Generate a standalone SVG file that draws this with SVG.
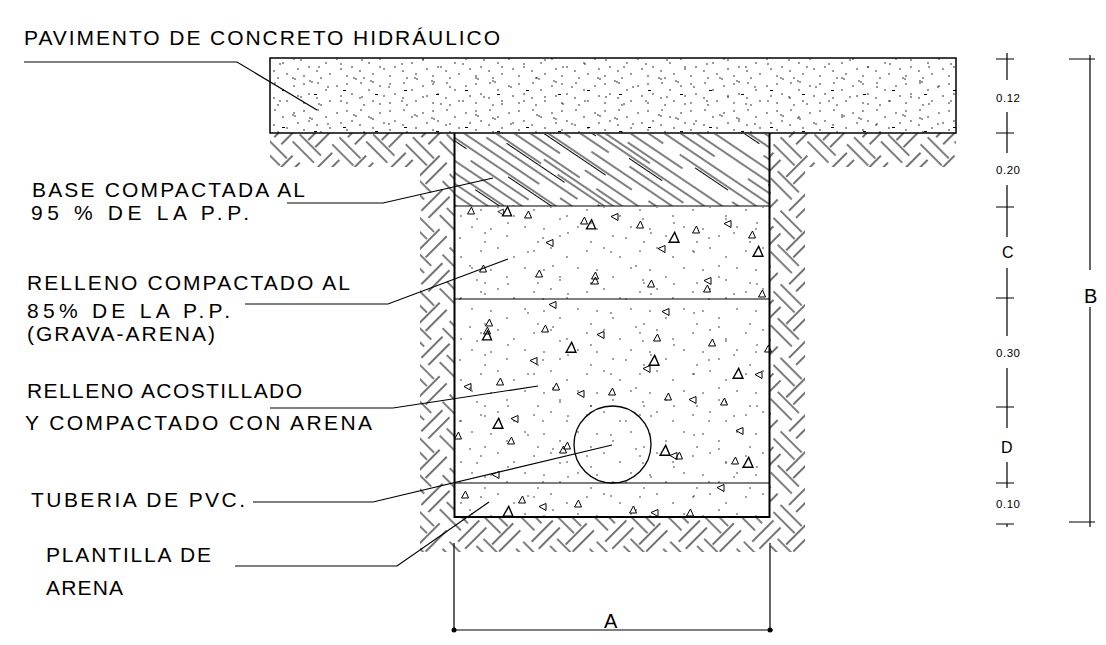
<svg xmlns="http://www.w3.org/2000/svg" width="1106" height="645" viewBox="0 0 1106 645">
<style>
.ln{stroke:#000;fill:none;stroke-width:1.2}
.wall{stroke:#000;fill:none;stroke-width:2}
.lbl{font-family:"Liberation Sans",Arial,sans-serif;font-size:21px;fill:#000}
.dim{font-family:"Liberation Sans",Arial,sans-serif;font-size:11.5px;fill:#000}
.dimL{font-family:"Liberation Sans",Arial,sans-serif;font-size:20px;fill:#000}
.tri{stroke:#000;fill:none;stroke-width:1}
</style>
<defs>
<pattern id="earth" patternUnits="userSpaceOnUse" width="52" height="52" patternTransform="translate(270,133) rotate(45)">
<path d="M-4,6 H30 M-4,16 H30 M22,32 H56 M22,42 H56 M32,-4 V30 M42,-4 V30 M6,22 V56 M16,22 V56" stroke="#000" stroke-width="1.1" fill="none"/>
</pattern>
<pattern id="diag" patternUnits="userSpaceOnUse" width="240" height="56" patternTransform="rotate(34)">
<path d="M0,1 H60 M80,1 H240 M20,3.5 H90 M130,3.5 H170 M0,10 H110 M135,10 H200 M0,19 H70 M95,19 H240 M0,28 H150 M170,28 H240 M40,30.5 H120 M190,30.5 H230 M0,38 H70 M100,38 H180 M0,47 H100 M120,47 H240 M60,52 H150" stroke="#000" stroke-width="1" fill="none"/>
</pattern>
<pattern id="pav1" patternUnits="userSpaceOnUse" width="43" height="27">
<g fill="#000"><circle cx="3" cy="3" r="0.75"/><circle cx="17" cy="2" r="0.75"/><circle cx="25" cy="9" r="0.75"/><circle cx="36" cy="5" r="0.75"/><circle cx="40" cy="15" r="0.75"/><circle cx="8" cy="13" r="0.75"/><circle cx="16" cy="17" r="0.75"/><circle cx="29" cy="20" r="0.75"/><circle cx="3" cy="22" r="0.75"/><circle cx="20" cy="24" r="0.75"/></g>
</pattern>
<pattern id="pav2" patternUnits="userSpaceOnUse" width="61" height="37">
<g fill="#000"><circle cx="5" cy="7" r="0.75"/><circle cx="7" cy="8" r="0.75"/><circle cx="23" cy="13" r="0.75"/><circle cx="49" cy="4" r="0.75"/><circle cx="51" cy="5" r="0.75"/><circle cx="57" cy="23" r="0.75"/><circle cx="14" cy="30" r="0.75"/><circle cx="36" cy="27" r="0.75"/><rect x="38" y="16" width="3" height="1"/><rect x="9" y="20" width="3" height="1"/></g>
</pattern>
<pattern id="dots1" patternUnits="userSpaceOnUse" width="53" height="41">
<g fill="#000"><circle cx="4" cy="5" r="0.7"/><circle cx="21" cy="2" r="0.7"/><circle cx="37" cy="11" r="0.7"/><circle cx="48" cy="22" r="0.7"/><circle cx="14" cy="24" r="0.7"/><circle cx="30" cy="31" r="0.7"/><circle cx="8" cy="37" r="0.7"/></g>
</pattern>
<pattern id="dots2" patternUnits="userSpaceOnUse" width="83" height="61">
<g fill="#000"><circle cx="10" cy="40" r="0.7"/><circle cx="30" cy="8" r="0.7"/><circle cx="55" cy="22" r="0.7"/><circle cx="70" cy="50" r="0.7"/><circle cx="45" cy="55" r="0.7"/><circle cx="62" cy="36" r="0.7"/></g>
</pattern>
<path id="t" d="M-3.5,3 L3.5,3 L0.5,-4 Z" class="tri"/>
</defs>
<rect width="1106" height="645" fill="#fff"/>

<g id="terreno">
<path d="M270,133 H454 V517 H770 V133 H956 V167 H805 V552 H420 V167 H270 Z" fill="url(#earth)"/>
</g>

<g id="pavimento">
<rect x="270" y="58" width="686" height="75" fill="url(#pav1)"/>
<rect x="270" y="58" width="686" height="75" fill="url(#pav2)"/>
<rect x="270" y="58" width="686" height="75" fill="none" stroke="#000" stroke-width="1.5"/>
</g>

<g id="base">
<rect x="455" y="134" width="314" height="72" fill="url(#diag)"/>
</g>

<g id="relleno">
<rect x="455" y="207" width="314" height="309" fill="url(#dots1)"/>
<rect x="455" y="207" width="314" height="309" fill="url(#dots2)"/>
<g id="triangulos">
<use href="#t" transform="translate(471,211)"/>
<use href="#t" transform="translate(501,212) rotate(-90) scale(0.8)"/>
<use href="#t" transform="translate(507,212) scale(1.3)"/>
<use href="#t" transform="translate(528,215)"/>
<use href="#t" transform="translate(550,243) rotate(-90)"/>
<use href="#t" transform="translate(584,221)"/>
<use href="#t" transform="translate(591,225) scale(1.3)"/>
<use href="#t" transform="translate(615,217) rotate(-90)"/>
<use href="#t" transform="translate(640,225)"/>
<use href="#t" transform="translate(674,238) scale(1.4)"/>
<use href="#t" transform="translate(662,249) rotate(-90)"/>
<use href="#t" transform="translate(696,230)"/>
<use href="#t" transform="translate(728,224) rotate(-90)"/>
<use href="#t" transform="translate(752,235)"/>
<use href="#t" transform="translate(758,252) scale(1.4)"/>
<use href="#t" transform="translate(483,269)"/>
<use href="#t" transform="translate(539,274)"/>
<use href="#t" transform="translate(595,276)"/>
<use href="#t" transform="translate(595,281)"/>
<use href="#t" transform="translate(651,284)"/>
<use href="#t" transform="translate(708,281) rotate(-90)"/>
<use href="#t" transform="translate(707,289)"/>
<use href="#t" transform="translate(762,294)"/>
<use href="#t" transform="translate(553,305) rotate(-90)"/>
<use href="#t" transform="translate(666,312) rotate(-90)"/>
<use href="#t" transform="translate(489,323)"/>
<use href="#t" transform="translate(487,331)"/>
<use href="#t" transform="translate(487,336) scale(1.3)"/>
<use href="#t" transform="translate(545,329)"/>
<use href="#t" transform="translate(601,335) rotate(-90)"/>
<use href="#t" transform="translate(657,338)"/>
<use href="#t" transform="translate(712,343)"/>
<use href="#t" transform="translate(571,348) scale(1.4)"/>
<use href="#t" transform="translate(768,349)"/>
<use href="#t" transform="translate(654,361) scale(1.4)"/>
<use href="#t" transform="translate(534,361) rotate(-90)"/>
<use href="#t" transform="translate(647,369) rotate(-90)"/>
<use href="#t" transform="translate(738,374) scale(1.4)"/>
<use href="#t" transform="translate(759,375) rotate(-90)"/>
<use href="#t" transform="translate(468,387) rotate(-90)"/>
<use href="#t" transform="translate(500,382)"/>
<use href="#t" transform="translate(556,387)"/>
<use href="#t" transform="translate(581,394) rotate(-90)"/>
<use href="#t" transform="translate(612,392)"/>
<use href="#t" transform="translate(668,397)"/>
<use href="#t" transform="translate(693,400) rotate(-90)"/>
<use href="#t" transform="translate(724,402)"/>
<use href="#t" transform="translate(515,419) rotate(-90)"/>
<use href="#t" transform="translate(498,424) scale(1.4)"/>
<use href="#t" transform="translate(740,431) rotate(-90)"/>
<use href="#t" transform="translate(511,441)"/>
<use href="#t" transform="translate(458,436)"/>
<use href="#t" transform="translate(563,450)"/>
<use href="#t" transform="translate(567,446)"/>
<use href="#t" transform="translate(665,451) scale(1.4)"/>
<use href="#t" transform="translate(674,456) rotate(-90)"/>
<use href="#t" transform="translate(679,456)"/>
<use href="#t" transform="translate(735,461)"/>
<use href="#t" transform="translate(748,463) scale(1.4)"/>
<use href="#t" transform="translate(496,475) rotate(-90)"/>
<use href="#t" transform="translate(465,495)"/>
<use href="#t" transform="translate(522,500)"/>
<use href="#t" transform="translate(543,507) rotate(-90)"/>
<use href="#t" transform="translate(578,504)"/>
<use href="#t" transform="translate(508,512) scale(1.4)"/>
<use href="#t" transform="translate(633,510)"/>
<use href="#t" transform="translate(655,513) rotate(-90)"/>
<use href="#t" transform="translate(690,513)"/>
<use href="#t" transform="translate(721,488) rotate(-90)"/>
</g>
</g>

<g id="zanja">
<path class="wall" d="M454.5,133 V517 H769.5 V133"/>
<path class="ln" d="M455,206 H769 M455,299 H769 M455,483 H769"/>
</g>

<g id="tuberia">
<circle cx="612.5" cy="444.5" r="38.5" fill="none" stroke="#000" stroke-width="1.3"/>
</g>

<g id="conectores">
<path class="ln" d="M24,62 H237 L317,110"/>
<path class="ln" d="M287,203 H383 L493,178"/>
<path class="ln" d="M245,304 H388 L508,259"/>
<path class="ln" d="M270,408 H393 L538,386"/>
<path class="ln" d="M253,502 H373 L612,445"/>
<path class="ln" d="M235,566 H397 L489,502"/>
</g>

<g id="etiquetas">
<text class="lbl" x="24" y="45" textLength="476" lengthAdjust="spacing">PAVIMENTO DE CONCRETO HIDRÁULICO</text>
<text class="lbl" x="32" y="196.5" textLength="273" lengthAdjust="spacing">BASE COMPACTADA AL</text>
<text class="lbl" x="31" y="220" textLength="218" lengthAdjust="spacing">95 % DE LA P.P.</text>
<text class="lbl" x="27" y="290" textLength="323" lengthAdjust="spacing">RELLENO COMPACTADO AL</text>
<text class="lbl" x="27" y="317.5" textLength="203" lengthAdjust="spacing">85% DE LA P.P.</text>
<text class="lbl" x="27" y="341" textLength="188" lengthAdjust="spacing">(GRAVA-ARENA)</text>
<text class="lbl" x="27" y="398" textLength="275" lengthAdjust="spacing">RELLENO ACOSTILLADO</text>
<text class="lbl" x="25" y="430" textLength="347" lengthAdjust="spacing">Y COMPACTADO CON ARENA</text>
<text class="lbl" x="31" y="507" textLength="214" lengthAdjust="spacing">TUBERIA DE PVC.</text>
<text class="lbl" x="46" y="562" textLength="165" lengthAdjust="spacing">PLANTILLA DE</text>
<text class="lbl" x="46" y="595" textLength="77" lengthAdjust="spacing">ARENA</text>
</g>

<g id="cotas">
<path class="ln" d="M1007,53 V80 M1007,112 V153 M1007,185 V237 M1007,268 V336 M1007,368 V428 M1007,462 V488 M1007,524 V527"/>
<path class="ln" d="M996,59 H1014 M996,133 H1014 M996,207 H1014 M996,298 H1014 M996,407 H1014 M996,483 H1014 M996,524 H1014"/>
<path class="ln" d="M1090,55 V270 M1090,307 V527 M1069,59 H1095 M1069,522 H1095"/>
<path class="ln" d="M454,543 V632 M770,543 V632 M452,630 H773"/>
<circle cx="454" cy="630" r="2.5" fill="#000"/>
<circle cx="770" cy="630" r="2.5" fill="#000"/>
<text class="dim" x="996" y="102" textLength="24" lengthAdjust="spacing">0.12</text>
<text class="dim" x="996" y="174" textLength="24" lengthAdjust="spacing">0.20</text>
<text class="dimL" x="1002" y="258" style="font-size:16px">C</text>
<text class="dim" x="996" y="357" textLength="24" lengthAdjust="spacing">0.30</text>
<text class="dimL" x="1001" y="453" style="font-size:16px">D</text>
<text class="dim" x="996" y="508" textLength="24" lengthAdjust="spacing">0.10</text>
<text class="dimL" x="1084" y="303">B</text>
<text class="dimL" x="604" y="628">A</text>
</g>
</svg>
